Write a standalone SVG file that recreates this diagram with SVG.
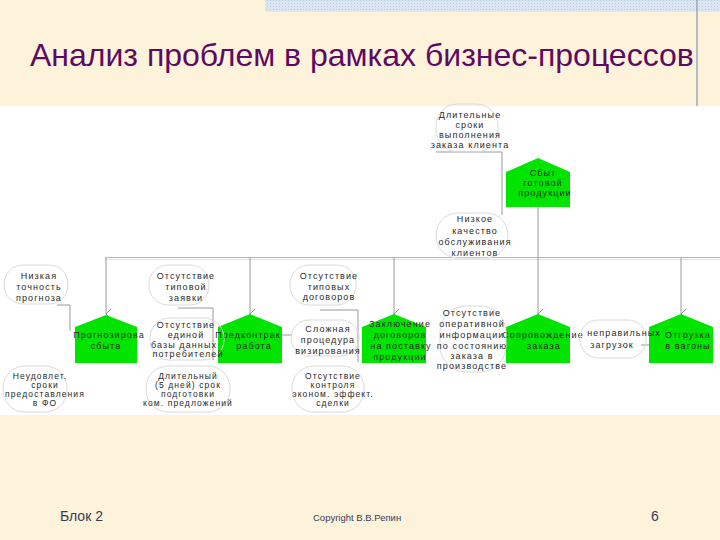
<svg xmlns="http://www.w3.org/2000/svg" width="720" height="540" viewBox="0 0 720 540">
<defs>
<pattern id="hatch" width="3" height="3" patternUnits="userSpaceOnUse">
<rect width="3" height="3" fill="#dbe6f2"/>
<rect width="1" height="1" fill="#b9cbe0"/>
</pattern>
<marker id="ah" markerWidth="10" markerHeight="8" refX="5" refY="7" orient="auto-start-reverse" markerUnits="userSpaceOnUse" viewBox="0 0 10 8">
<path d="M0,2 L5,7 L10,2" fill="none" stroke="#8a8ad0" stroke-width="1"/>
</marker>
<style>
.t{font-family:"Liberation Sans",Arial,sans-serif;font-size:9px;letter-spacing:1.1px;fill:#2a2a2a;text-anchor:middle}
.s{font-size:8.5px}
.ov{fill:none;stroke:#dadada;stroke-width:1}
.pg{fill:#00e400;stroke:none}
.c{fill:none;stroke:#9a9a9a;stroke-width:1}
.bus{fill:none;stroke:#b4b4b4;stroke-width:1}
.ft{font-family:"Liberation Sans",Arial,sans-serif;fill:#3a3a5a}
</style>
</defs>
<rect x="0" y="0" width="720" height="540" fill="#fcf3da"/>
<rect x="265" y="0" width="455" height="12" fill="url(#hatch)"/>
<line x1="697" y1="0" x2="697" y2="106" stroke="#8a96b4" stroke-width="1.2"/>
<text x="30" y="66" font-family="'Liberation Sans',Arial,sans-serif" font-size="32" fill="#5e0a62">Анализ проблем в рамках бизнес-процессов</text>
<rect x="0" y="106" width="720" height="309" fill="#ffffff"/>

<g id="connectors">
<line class="bus" x1="105" y1="257.5" x2="720" y2="257.5"/>
<line x1="105" y1="259.5" x2="720" y2="259.5" stroke="#e2e2e2" stroke-width="1"/>
<line class="c" x1="106" y1="258" x2="106" y2="314" marker-end="url(#ah)"/>
<line class="c" x1="250" y1="258" x2="250" y2="314" marker-end="url(#ah)"/>
<line class="c" x1="394" y1="258" x2="394" y2="314" marker-end="url(#ah)"/>
<line class="c" x1="538" y1="207" x2="538" y2="314" marker-end="url(#ah)"/>
<line class="c" x1="681" y1="258" x2="681" y2="314" marker-end="url(#ah)"/>
<polyline class="c" points="436,152 502,152 502,215"/>
<polyline class="c" points="57,305 70,305 70,331"/>
<polyline class="c" points="178,308 213,308 213,360"/>
<polyline class="c" points="320,310 358,310 358,362"/>
<line class="c" x1="282" y1="335" x2="292" y2="335"/>
<line class="c" x1="641" y1="345" x2="649" y2="345"/>
</g>

<g id="n_sbyt">
<path class="pg" d="M506,172 L538,158 L570,172 L570,207 L506,207 Z"/>
<text class="t" x="543" y="176">Сбыт</text>
<text class="t" x="543" y="186">готовой</text>
<text class="t" x="545" y="196">продукции</text>
</g>
<g id="n_prog">
<path class="pg" d="M75,327 L106,315 L137,327 L137,363 L75,363 Z"/>
<text class="t" x="109" y="338">Прогнозирова</text>
<text class="t" x="106" y="349">сбыта</text>
</g>
<g id="n_predk">
<path class="pg" d="M218,327 L250,314 L282,327 L282,363 L218,363 Z"/>
<text class="t" x="248" y="338">Предконтрак</text>
<text class="t" x="254" y="349">работа</text>
</g>
<g id="n_zakl">
<path class="pg" d="M362,327 L394,314 L426,327 L426,363 L362,363 Z"/>
<text class="t" x="400" y="327">Заключение</text>
<text class="t" x="400" y="338">договоров</text>
<text class="t" x="401" y="349">на поставку</text>
<text class="t" x="400" y="360">продукции</text>
</g>
<g id="n_sopr">
<path class="pg" d="M506,327 L538,314 L570,327 L570,363 L506,363 Z"/>
<text class="t" x="543" y="338">Сопровождение</text>
<text class="t" x="544" y="349">заказа</text>
</g>
<g id="n_otgr">
<path class="pg" d="M649,327 L681,314 L713,327 L713,363 L649,363 Z"/>
<text class="t" x="688" y="338">Отгрузка</text>
<text class="t" x="688" y="349">в вагоны</text>
</g>

<g id="p_dlit_sroki">
<rect class="ov" x="436" y="104" width="62" height="48" rx="22"/>
<text class="t" x="470" y="118">Длительные</text>
<text class="t" x="470" y="128">сроки</text>
<text class="t" x="470" y="138">выполнения</text>
<text class="t" x="470" y="148">заказа клиента</text>
</g>
<g id="p_nizkoe">
<rect class="ov" x="436" y="213" width="72" height="45" rx="22"/>
<text class="t" x="475" y="222">Низкое</text>
<text class="t" x="475" y="234">качество</text>
<text class="t" x="475" y="245">обслуживания</text>
<text class="t" x="475" y="256">клиентов</text>
</g>
<g id="p_nizkaya">
<rect class="ov" x="4" y="265" width="64" height="39" rx="19"/>
<text class="t" x="39" y="279">Низкая</text>
<text class="t" x="39" y="290">точность</text>
<text class="t" x="39" y="301">прогноза</text>
</g>
<g id="p_zayavki">
<rect class="ov" x="149" y="265" width="60" height="40" rx="19"/>
<text class="t" x="186" y="279">Отсутствие</text>
<text class="t" x="186" y="290">типовой</text>
<text class="t" x="186" y="301">заявки</text>
</g>
<g id="p_bazy">
<rect class="ov" x="150" y="318" width="74" height="42" rx="20"/>
<text class="t" x="186" y="328">Отсутствие</text>
<text class="t" x="186" y="338">единой</text>
<text class="t" x="184" y="348">базы данных</text>
<text class="t" x="188" y="357">потребителей</text>
</g>
<g id="p_dogovorov">
<rect class="ov" x="290" y="265" width="66" height="40" rx="19"/>
<text class="t" x="329" y="279">Отсутствие</text>
<text class="t" x="329" y="290">типовых</text>
<text class="t" x="329" y="300">договоров</text>
</g>
<g id="p_viz">
<rect class="ov" x="291" y="320" width="68" height="36" rx="18"/>
<text class="t" x="328" y="332">Сложная</text>
<text class="t" x="328" y="343">процедура</text>
<text class="t" x="328" y="354">визирования</text>
</g>
<g id="p_operinf">
<rect class="ov" x="440" y="306" width="66" height="66" rx="26"/>
<text class="t" x="472" y="316">Отсутствие</text>
<text class="t" x="472" y="327">оперативной</text>
<text class="t" x="472" y="338">информации</text>
<text class="t" x="472" y="349">по состоянию</text>
<text class="t" x="472" y="359">заказа в</text>
<text class="t" x="472" y="369">производстве</text>
</g>
<g id="p_zagruzok">
<rect class="ov" x="580" y="320" width="66" height="38" rx="18"/>
<text class="t" x="624" y="336">неправильных</text>
<text class="t" x="612" y="348">загрузок</text>
</g>
<g id="p_fo">
<rect class="ov" x="3" y="366" width="64" height="46" rx="22"/>
<text class="t s" x="40" y="379">Неудовлет.</text>
<text class="t s" x="45" y="388">сроки</text>
<text class="t s" x="45" y="397">предоставления</text>
<text class="t s" x="45" y="406">в ФО</text>
</g>
<g id="p_kp">
<rect class="ov" x="146" y="366" width="84" height="46" rx="22"/>
<text class="t s" x="188" y="379">Длительный</text>
<text class="t s" x="188" y="388">(5 дней) срок</text>
<text class="t s" x="188" y="397">подготовки</text>
<text class="t s" x="188" y="406">ком. предложений</text>
</g>
<g id="p_kontrol">
<rect class="ov" x="292" y="366" width="72" height="46" rx="22"/>
<text class="t s" x="333" y="379">Отсутствие</text>
<text class="t s" x="333" y="388">контроля</text>
<text class="t s" x="333" y="397">эконом. эффект.</text>
<text class="t s" x="333" y="406">сделки</text>
</g>

<text class="ft" x="60" y="521" font-size="14">Блок 2</text>
<text class="ft" x="313" y="521" font-size="9.5">Copyright В.В.Репин</text>
<text class="ft" x="651" y="521" font-size="14">6</text>
</svg>
